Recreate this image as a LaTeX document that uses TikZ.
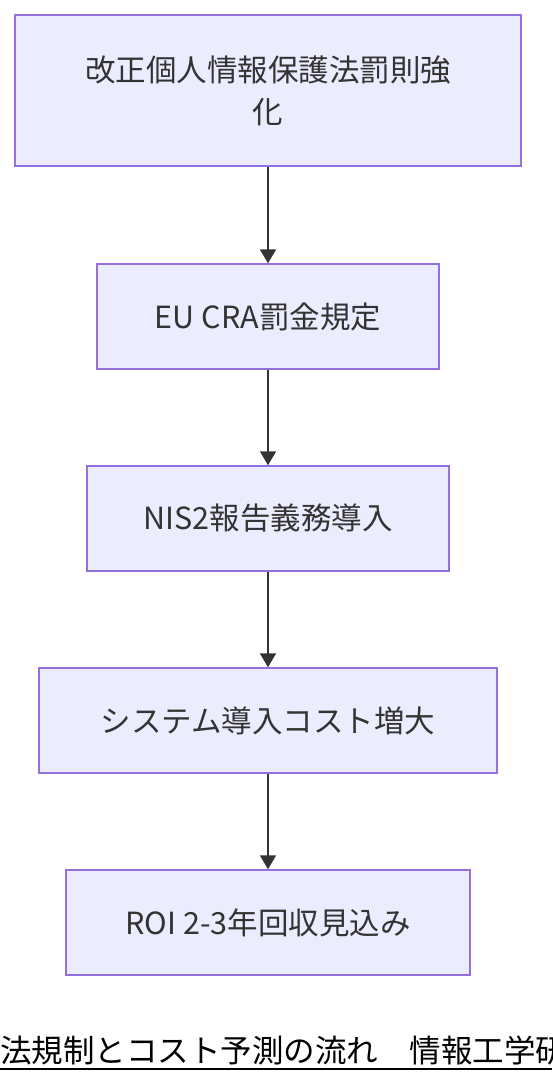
\documentclass[tikz,border=0pt]{standalone}
\usepackage{fontspec}
\setmainfont{Noto Sans CJK JP}
\usetikzlibrary{arrows.meta}
\definecolor{boxfill}{HTML}{ECECFF}
\definecolor{boxline}{HTML}{9370DB}
\definecolor{arrowline}{HTML}{333333}
\tikzset{
  flowbox/.style={draw=boxline, fill=boxfill, line width=1.5pt, inner sep=0pt,
    minimum height=105pt, align=center, font=\fontsize{30.5pt}{42pt}\selectfont, text=arrowline},
  flowarrow/.style={draw=arrowline, line width=2pt, -{Stealth[length=14pt,width=16pt,inset=0pt]}}
}
\begin{document}
\begin{tikzpicture}[x=1pt,y=-1pt]
        \useasboundingbox (0,0) rectangle (552,1084);
        \node[flowbox, minimum width=506pt, minimum height=151pt] (law) at (268,90.5) {改正個人情報保護法罰則強\\化};
        \node[flowbox, minimum width=342pt] (cra) at (268,316.5) {EU CRA罰金規定};
        \node[flowbox, minimum width=362pt] (nis) at (268,518.5) {NIS2報告義務導入};
        \node[flowbox, minimum width=458pt] (cost) at (268,720.5) {システム導入コスト増大};
        \node[flowbox, minimum width=404pt] (roi) at (268,922.5) {ROI 2-3年回収見込み};
        \draw[flowarrow] (law) -- (cra);
        \draw[flowarrow] (cra) -- (nis);
        \draw[flowarrow] (nis) -- (cost);
        \draw[flowarrow] (cost) -- (roi);
        \node[anchor=base west, inner sep=0pt, font=\fontsize{31.5pt}{33pt}\selectfont] (title) at (0,1062) {法規制とコスト予測の流れ　情報工学研};
        \draw[line width=2pt] (0,1069) -- (552,1069);
\end{tikzpicture}
\end{document}
